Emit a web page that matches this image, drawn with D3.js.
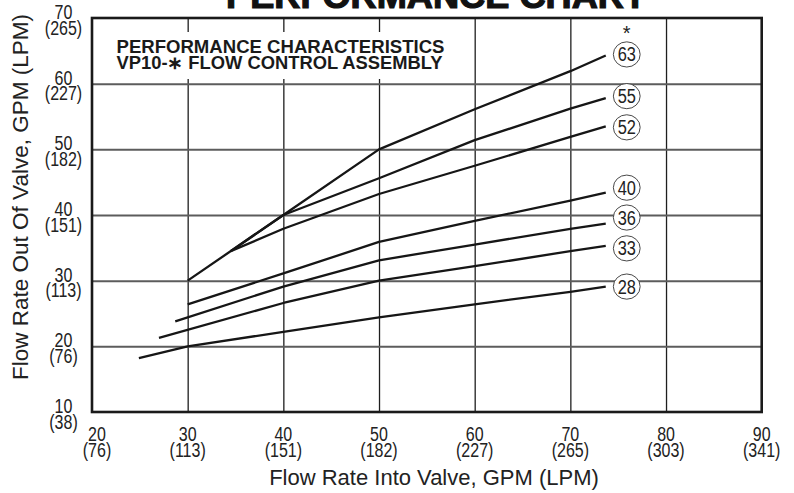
<!DOCTYPE html>
<html>
<head>
<meta charset="utf-8">
<script src="https://cdn.jsdelivr.net/npm/d3@7.9.0/dist/d3.min.js"></script>
<style>
  html, body { margin: 0; padding: 0; background: #fff; }
  svg { display: block; font-family: "Liberation Sans", Arial, Helvetica, sans-serif; }
</style>
</head>
<body>
<svg id="chart" width="794" height="493"></svg>
<script>
// tick values, GPM with LPM in brackets
const xTicks = [20, 30, 40, 50, 60, 70, 80, 90];
const xTicksLpm = ['(76)', '(113)', '(151)', '(182)', '(227)', '(265)', '(303)', '(341)'];
const yTicks = [10, 20, 30, 40, 50, 60, 70];
const yTicksLpm = ['(38)', '(76)', '(113)', '(151)', '(182)', '(227)', '(265)'];

// curves: [flow in, flow out] in GPM
const curve63 = [[30, 30], [40, 40], [50, 50], [60, 56.1], [70, 61.9], [73.7, 64.3]];
const curve55 = [[34.5, 34.5], [40, 40], [50, 45.6], [60, 51.4], [70, 56.2], [73.7, 57.8]];
const curve52 = [[34.5, 34.5], [40, 37.9], [50, 43.2], [60, 47.5], [70, 51.9], [73.7, 53.5]];
const curve40 = [[30, 26.4], [40, 31.1], [50, 35.9], [60, 39.1], [70, 42.2], [73.7, 43.4]];
const curve36 = [[28.7, 23.8], [40, 29.1], [50, 33.1], [60, 35.5], [70, 37.9], [73.7, 38.7]];
const curve33 = [[27, 21.3], [40, 26.6], [50, 30], [60, 32.2], [70, 34.5], [73.7, 35.3]];
const curve28 = [[24.9, 18.2], [30, 20], [40, 22.2], [50, 24.4], [60, 26.4], [70, 28.3], [73.7, 29.1]];

const curveNames = ['63', '55', '52', '40', '36', '33', '28'];
const curves = [curve63, curve55, curve52, curve40, curve36, curve33, curve28];
// small vertical nudges so the circled labels don't collide
const labelNudge = [-1, -2, 1, -5, -6, 2.5, 0];

const svg = d3.select('#chart');
const plotLeft = 92, plotRight = 761.7, plotTop = 18, plotBottom = 412;

const x = d3.scaleLinear().domain([20, 90]).range([plotLeft, plotRight]);
const y = d3.scaleLinear().domain([10, 70]).range([plotBottom, plotTop]);

// squeeze text to look like the condensed face of the original
function condense(sel, f) {
  sel.each(function () {
    const w = this.getComputedTextLength();
    this.setAttribute('textLength', w * f);
    this.setAttribute('lengthAdjust', 'spacingAndGlyphs');
  });
}

svg.append('rect').attr('width', 794).attr('height', 493).attr('fill', '#fff');

// grid
const gx = svg.append('g')
  .attr('transform', `translate(0,${plotBottom})`)
  .call(d3.axisBottom(x).tickValues(xTicks.slice(1, -1)).tickSize(-(plotBottom - plotTop)).tickFormat(''));
gx.select('.domain').remove();
gx.selectAll('line').attr('stroke', '#1e1e1e').attr('stroke-width', 1.3);

const gy = svg.append('g')
  .attr('transform', `translate(${plotLeft},0)`)
  .call(d3.axisLeft(y).tickValues(yTicks.slice(1, -1)).tickSize(-(plotRight - plotLeft)).tickFormat(''));
gy.select('.domain').remove();
gy.selectAll('line').attr('stroke', '#5c5c5c').attr('stroke-width', 2);

// white box behind the note
svg.append('rect')
  .attr('x', 104).attr('y', 32).attr('width', 348).attr('height', 47)
  .attr('fill', '#fff');

const note = svg.append('g').attr('fill', '#1a1a1a').attr('font-weight', 'bold').attr('font-size', 17.5);
note.append('text').attr('x', 116.5).attr('y', 53)
  .attr('textLength', 328).attr('lengthAdjust', 'spacingAndGlyphs')
  .text('PERFORMANCE CHARACTERISTICS');
note.append('text').attr('x', 116.5).attr('y', 68.5)
  .attr('textLength', 326).attr('lengthAdjust', 'spacingAndGlyphs')
  .text('VP10-\u2217 FLOW CONTROL ASSEMBLY');

// frame
svg.append('rect')
  .attr('x', plotLeft).attr('y', plotTop)
  .attr('width', plotRight - plotLeft).attr('height', plotBottom - plotTop)
  .attr('fill', 'none').attr('stroke', '#1a1a1a').attr('stroke-width', 2.6);

// curves
const line = d3.line().x(d => x(d[0])).y(d => y(d[1]));
svg.append('g').selectAll('path')
  .data(curves)
  .join('path')
  .attr('d', line)
  .attr('fill', 'none')
  .attr('stroke', '#161616')
  .attr('stroke-width', 2.3)
  .attr('stroke-linejoin', 'round');

// circled labels
const lab = svg.append('g').selectAll('g')
  .data(curves)
  .join('g')
  .attr('transform', (d, i) => {
    const last = d[d.length - 1];
    return `translate(${x(last[0]) + 21},${y(last[1]) + labelNudge[i]})`;
  });
lab.append('ellipse')
  .attr('rx', 13.4).attr('ry', 12.6)
  .attr('fill', '#fff').attr('stroke', '#333').attr('stroke-width', 0.9);
lab.append('text')
  .attr('text-anchor', 'middle').attr('y', 7)
  .attr('font-size', 19.5).attr('fill', '#222')
  .text((d, i) => curveNames[i])
  .call(condense, 0.84);

svg.append('text')
  .attr('x', x(curve63[curve63.length - 1][0]) + 21).attr('y', 40)
  .attr('text-anchor', 'middle').attr('font-size', 20).attr('fill', '#222')
  .text('*');

// y tick labels
const yl = svg.append('g').attr('fill', '#222').attr('font-size', 20).attr('text-anchor', 'middle');
yTicks.forEach((v, i) => {
  yl.append('text').attr('x', 63.5).attr('y', y(v) + 1).text(v).call(condense, 0.8);
  yl.append('text').attr('x', 63.5).attr('y', y(v) + 16.5).text(yTicksLpm[i]).call(condense, 0.8);
});

// x tick labels
const xl = svg.append('g').attr('fill', '#222').attr('font-size', 20).attr('text-anchor', 'middle');
xTicks.forEach((v, i) => {
  const cx = x(v) + (i === 0 ? 5 : 0);
  xl.append('text').attr('x', cx).attr('y', 441).text(v).call(condense, 0.8);
  xl.append('text').attr('x', cx).attr('y', 456.5).text(xTicksLpm[i]).call(condense, 0.8);
});

// axis titles
svg.append('text')
  .attr('x', 434).attr('y', 485)
  .attr('text-anchor', 'middle').attr('font-size', 22).attr('fill', '#222')
  .text('Flow Rate Into Valve, GPM (LPM)');

svg.append('text')
  .attr('transform', 'translate(28,197) rotate(-90)')
  .attr('text-anchor', 'middle').attr('font-size', 22.5).attr('fill', '#222')
  .text('Flow Rate Out Of Valve, GPM (LPM)');

// title, cut off by the top edge like the original
svg.append('text')
  .attr('x', 436).attr('y', 8.3)
  .attr('text-anchor', 'middle').attr('font-size', 35).attr('font-weight', 'bold')
  .attr('fill', '#111').attr('stroke', '#111').attr('stroke-width', 1.2)
  .attr('textLength', 420).attr('lengthAdjust', 'spacingAndGlyphs')
  .text('PERFORMANCE CHART');
</script>
</body>
</html>
